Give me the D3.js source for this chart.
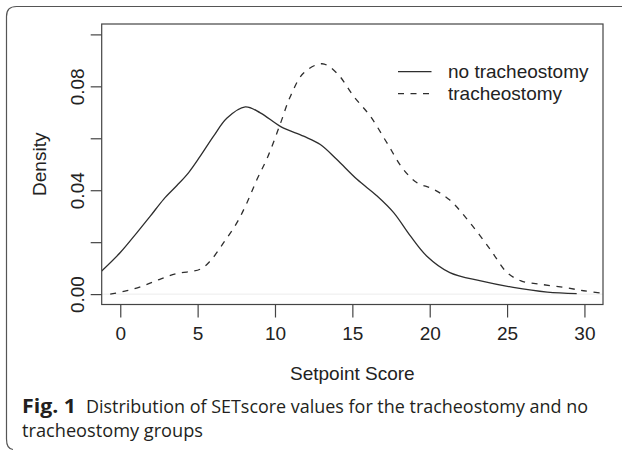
<!DOCTYPE html>
<html>
<head>
<meta charset="utf-8">
<script src="https://cdn.jsdelivr.net/npm/d3@7"></script>
<style>
  body { margin: 0; background: #fff; }
  svg { display: block; }
</style>
</head>
<body>
<svg id="chart"></svg>
<script>
// density estimates (setpoint score, density)
const noTrachScore = [-1.2, 0, 1.08, 1.94, 2.8, 3.66, 4.42, 5.17, 6.03, 6.9, 8.08, 9.05, 10.4, 11.85, 12.93, 14.0, 15.3, 16.6, 17.67, 18.75, 19.8, 21.3, 23.3, 25.4, 27.6, 29.5];
const noTrachDensity = [0.0089, 0.016, 0.0237, 0.030, 0.0365, 0.0418, 0.0468, 0.0531, 0.0608, 0.0678, 0.0721, 0.0698, 0.0644, 0.0608, 0.0576, 0.0518, 0.0442, 0.0378, 0.0314, 0.0224, 0.0147, 0.0083, 0.0051, 0.0026, 0.0008, 0.0002];

const trachScore = [-0.65, 0.43, 1.5, 2.59, 3.66, 5.17, 5.82, 6.68, 7.54, 8.19, 8.84, 9.55, 10.34, 11.0, 11.85, 13.04, 14.0, 15.08, 16.16, 17.24, 18.3, 19.18, 20.2, 21.3, 22.6, 23.9, 25.0, 25.9, 27.15, 28.65, 29.95, 31.2];
const trachDensity = [0.0, 0.0013, 0.0032, 0.0058, 0.0079, 0.0096, 0.0128, 0.0198, 0.0275, 0.0352, 0.0442, 0.0531, 0.0655, 0.0762, 0.0851, 0.0887, 0.0851, 0.0762, 0.0685, 0.0582, 0.048, 0.0429, 0.0405, 0.0362, 0.0275, 0.0173, 0.0083, 0.0051, 0.0038, 0.0026, 0.0013, 0.0003];

const xTicks = [0, 5, 10, 15, 20, 25, 30];
const yTicks = [0, 0.02, 0.04, 0.06, 0.08, 0.10];
const yLabelled = [0, 0.04, 0.08];
const legendLabels = ["no tracheostomy", "tracheostomy"];

class DensityPlot {

    constructor(_config) {
        this.config = {
            parentElement: _config.parentElement,
            width: 622,
            height: 452,
            box: { left: 101.7, right: 603, top: 24, bottom: 304.5 },
            xDomain: [-1.2, 31.2],
            yDomain: [-0.004, 0.104]
        };
        this.series = [
            { label: legendLabels[0], dash: null, values: noTrachScore.map((s, i) => [s, noTrachDensity[i]]) },
            { label: legendLabels[1], dash: '6,6.5', values: trachScore.map((s, i) => [s, trachDensity[i]]) }
        ];
        this.initVis();
    }

    initVis() {
        let vis = this;
        const b = vis.config.box;

        vis.svg = d3.select(vis.config.parentElement)
            .attr('width', vis.config.width)
            .attr('height', vis.config.height)
            .style('font-family', '"Liberation Sans", Arial, Helvetica, sans-serif');

        vis.xScale = d3.scaleLinear().domain(vis.config.xDomain).range([b.left, b.right]);
        vis.yScale = d3.scaleLinear().domain(vis.config.yDomain).range([b.bottom, b.top]);

        // figure frame (rounded on the left, open to the right)
        vis.svg.append('path')
            .attr('d', 'M622,6.5 L16.5,6.5 Q6.5,6.5 6.5,16.5 L6.5,439 Q6.5,449 13,449.5')
            .attr('fill', 'none')
            .attr('stroke', '#555')
            .attr('stroke-width', 1.2);

        vis.svg.append('defs').append('clipPath')
            .attr('id', 'plot-clip')
            .append('rect')
            .attr('x', b.left)
            .attr('y', b.top)
            .attr('width', b.right - b.left)
            .attr('height', b.bottom - b.top);

        // faint zero line
        vis.svg.append('line')
            .attr('x1', b.left).attr('x2', b.right)
            .attr('y1', vis.yScale(0)).attr('y2', vis.yScale(0))
            .attr('stroke', '#ececec')
            .attr('stroke-width', 1);

        vis.plotG = vis.svg.append('g').attr('clip-path', 'url(#plot-clip)');

        vis.xAxisG = vis.svg.append('g')
            .attr('transform', `translate(0,${b.bottom})`);
        vis.yAxisG = vis.svg.append('g')
            .attr('transform', `translate(${b.left},0)`);

        vis.svg.append('rect')
            .attr('x', b.left).attr('y', b.top)
            .attr('width', b.right - b.left)
            .attr('height', b.bottom - b.top)
            .attr('fill', 'none')
            .attr('stroke', '#444')
            .attr('stroke-width', 1.2);

        vis.line = d3.line()
            .x(d => vis.xScale(d[0]))
            .y(d => vis.yScale(d[1]))
            .curve(d3.curveCatmullRom.alpha(0.5));

        vis.renderVis();
    }

    renderVis() {
        let vis = this;
        const b = vis.config.box;

        vis.plotG.selectAll('.density')
            .data(vis.series)
            .join('path')
            .attr('class', 'density')
            .attr('d', d => vis.line(d.values))
            .attr('fill', 'none')
            .attr('stroke', '#2e2e2e')
            .attr('stroke-width', 1.3)
            .attr('stroke-dasharray', d => d.dash);

        // axes
        vis.xAxisG.call(d3.axisBottom(vis.xScale).tickValues(xTicks).tickSize(13).tickSizeOuter(0));
        vis.yAxisG.call(d3.axisLeft(vis.yScale).tickValues(yTicks).tickSize(11).tickSizeOuter(0)
            .tickFormat(d => yLabelled.some(v => Math.abs(v - d) < 1e-9) ? d3.format('.2f')(d) : ''));

        vis.xAxisG.select('.domain').remove();
        vis.yAxisG.select('.domain').remove();
        vis.svg.selectAll('.tick line').attr('stroke', '#444').attr('stroke-width', 1.2);

        vis.xAxisG.selectAll('.tick text')
            .attr('y', 35.5)
            .attr('dy', 0)
            .attr('fill', '#222')
            .attr('font-size', '19px')
            .attr('font-family', '"Liberation Sans", Arial, sans-serif');

        vis.yAxisG.selectAll('.tick text')
            .attr('transform', 'rotate(-90)')
            .attr('x', 0)
            .attr('y', -17.5)
            .attr('dy', 0)
            .attr('text-anchor', 'middle')
            .attr('fill', '#222')
            .attr('font-size', '19px')
            .attr('font-family', '"Liberation Sans", Arial, sans-serif');

        // axis titles
        vis.svg.append('text')
            .attr('x', (b.left + b.right) / 2)
            .attr('y', 380)
            .attr('text-anchor', 'middle')
            .attr('font-size', '19px')
            .attr('fill', '#222')
            .text('Setpoint Score');

        vis.svg.append('text')
            .attr('transform', `translate(45.5,${(b.top + b.bottom) / 2}) rotate(-90)`)
            .attr('text-anchor', 'middle')
            .attr('font-size', '19px')
            .attr('fill', '#222')
            .text('Density');

        // legend
        const legend = vis.svg.append('g').attr('transform', 'translate(398,71.7)');
        const rows = legend.selectAll('g')
            .data(vis.series)
            .join('g')
            .attr('transform', (d, i) => `translate(0,${i * 22})`);
        rows.append('line')
            .attr('x1', 0).attr('x2', 33.5)
            .attr('stroke', '#2e2e2e')
            .attr('stroke-width', 1.3)
            .attr('stroke-dasharray', d => d.dash);
        rows.append('text')
            .attr('x', 50)
            .attr('y', 6.5)
            .attr('font-size', '19px')
            .attr('fill', '#222')
            .text(d => d.label);

        // caption
        const cap = vis.svg.append('g')
            .style('font-family', '"Open Sans", "Noto Sans", sans-serif')
            .attr('fill', '#231f20');
        cap.append('text')
            .attr('x', 22).attr('y', 413)
            .attr('font-size', '19px')
            .attr('font-weight', 'bold')
            .attr('textLength', 54)
            .attr('lengthAdjust', 'spacingAndGlyphs')
            .text('Fig. 1');
        cap.append('text')
            .attr('x', 86).attr('y', 413)
            .attr('font-size', '19px')
            .attr('textLength', 502)
            .attr('lengthAdjust', 'spacingAndGlyphs')
            .text('Distribution of SETscore values for the tracheostomy and no');
        cap.append('text')
            .attr('x', 22).attr('y', 437)
            .attr('font-size', '19px')
            .attr('textLength', 181)
            .attr('lengthAdjust', 'spacingAndGlyphs')
            .text('tracheostomy groups');
    }
}

new DensityPlot({ parentElement: '#chart' });
</script>
</body>
</html>
